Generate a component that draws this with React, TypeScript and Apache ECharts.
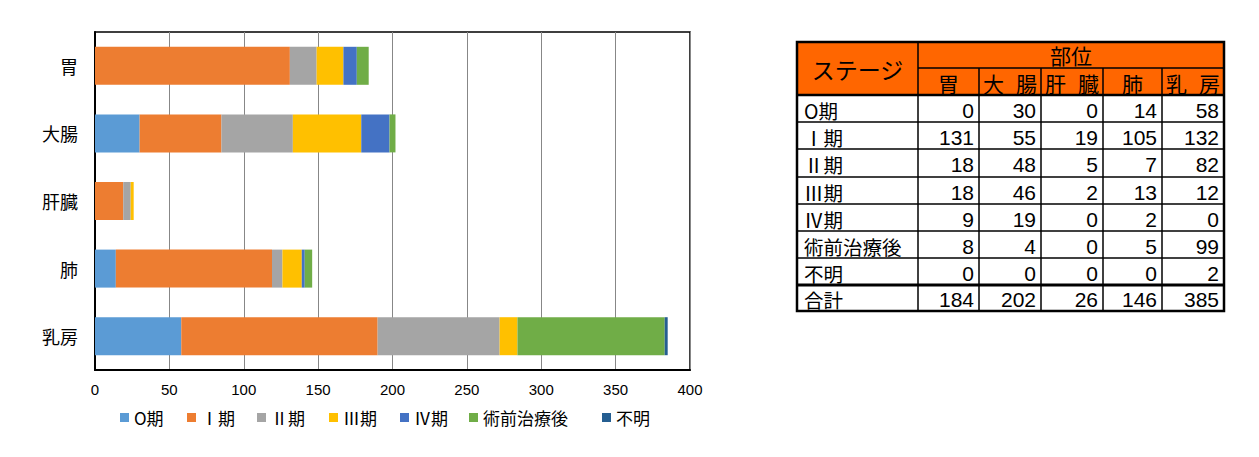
import React, { useEffect, useRef } from "react";
import * as echarts from "echarts";

const sites = ["胃", "大腸", "肝臓", "肺", "乳房"];
const stages = ["O期", "Ⅰ期", "Ⅱ期", "Ⅲ期", "Ⅳ期", "術前治療後", "不明"];
const stage0 = [0, 30, 0, 14, 58];
const stage1 = [131, 55, 19, 105, 132];
const stage2 = [18, 48, 5, 7, 82];
const stage3 = [18, 46, 2, 13, 12];
const stage4 = [9, 19, 0, 2, 0];
const preop = [8, 4, 0, 5, 99];
const unknown = [0, 0, 0, 0, 2];
const totals = [184, 202, 26, 146, 385];
const xTicks = [0, 50, 100, 150, 200, 250, 300, 350, 400];

const stageValues = [stage0, stage1, stage2, stage3, stage4, preop, unknown];
const colors = ["#5B9BD5", "#ED7D31", "#A5A5A5", "#FFC000", "#4472C4", "#70AD47", "#255E91"];
const legendLefts = [120, 187, 257, 329, 400, 469, 602];

const JP = "'Noto Sans CJK JP', 'Noto Sans', sans-serif";
const NUM = "'Liberation Sans', Arial, sans-serif";

function buildTable(): any[] {
  const colX = [797, 918, 979, 1041, 1103, 1162, 1224];
  const rowY = [42, 68, 95, 122, 149, 177, 204, 231, 258, 285, 311];
  const els: any[] = [];
  const L = colX[0];
  const R = colX[colX.length - 1];
  const T = rowY[0];
  const B = rowY[rowY.length - 1];
  els.push({ type: "rect", shape: { x: L, y: T, width: R - L, height: rowY[2] - T }, style: { fill: "#FF6600" } });
  const line = (x1: number, y1: number, x2: number, y2: number, w: number) =>
    els.push({ type: "line", shape: { x1, y1, x2, y2 }, style: { stroke: "#000", lineWidth: w } });
  line(colX[1], rowY[1], R, rowY[1], 1.5);
  for (let i = 3; i < rowY.length - 2; i++) line(L, rowY[i], R, rowY[i], 1.5);
  line(L, rowY[2], R, rowY[2], 2.5);
  line(L, rowY[9], R, rowY[9], 3);
  line(colX[1], T, colX[1], B, 1.5);
  for (let j = 2; j < colX.length - 1; j++) line(colX[j], rowY[1], colX[j], B, 1.5);
  els.push({ type: "rect", shape: { x: L, y: T, width: R - L, height: B - T }, style: { fill: "none", stroke: "#000", lineWidth: 2.5 } });

  const txt = (text: string, x: number, y: number, size: number, align: string, font = JP) =>
    els.push({
      type: "text",
      x,
      y,
      style: {
        text,
        fontSize: size,
        fontFamily: font,
        lineHeight: size + 1,
        fill: "#000",
        align,
        verticalAlign: "middle",
      },
    });

  txt("ステージ", (colX[0] + colX[1]) / 2, 69, 23, "center");
  txt("部位", (colX[1] + R) / 2, 55, 21, "center");
  sites.forEach((s, j) => {
    const x0 = colX[j + 1];
    const x1 = colX[j + 2];
    const chars = s.split("");
    if (chars.length === 1) {
      txt(s, (x0 + x1) / 2, 83, 21, "center");
    } else {
      txt(chars[0], x0 + 4, 83, 21, "left");
      txt(chars[1], x1 - 4, 83, 21, "right");
    }
  });
  const rows = stages.map((s, i) => ({ label: s, vals: stageValues[i] }));
  rows.push({ label: "合計", vals: totals });
  rows.forEach((r, i) => {
    const cy = (rowY[i + 2] + rowY[i + 3]) / 2 + 1.5;
    txt(r.label, 804, cy, 19.5, "left");
    r.vals.forEach((v, j) => {
      txt(String(v), colX[j + 2] - 5, cy, 21, "right", NUM);
    });
  });
  return els;
}

export default function App() {
  const ref = useRef<HTMLDivElement>(null);
  useEffect(() => {
    document.body.style.margin = "0";
    const chart = echarts.init(ref.current!, undefined, { renderer: "svg" });
    const option: any = {
      animation: false,
      backgroundColor: "#fff",
      grid: { left: 95, top: 32, right: 569, bottom: 87, show: true, borderColor: "#000", borderWidth: 1.5 },
      xAxis: {
        type: "value",
        min: xTicks[0],
        max: xTicks[xTicks.length - 1],
        interval: xTicks[1] - xTicks[0],
        axisLine: { show: true, lineStyle: { color: "#000", width: 2 } },
        axisTick: { show: false },
        axisLabel: { color: "#000", fontSize: 15, fontFamily: NUM, margin: 12 },
        splitLine: { show: true, lineStyle: { color: "#878787", width: 1 } },
      },
      yAxis: {
        type: "category",
        data: sites,
        inverse: true,
        axisLine: { show: true, lineStyle: { color: "#000", width: 2 } },
        axisTick: { show: false },
        axisLabel: { color: "#000", fontSize: 18, fontFamily: JP, margin: 17 },
      },
      legend: stages.map((s, i) => ({
        data: [s],
        left: legendLefts[i],
        top: 409,
        padding: 0,
        itemWidth: 9,
        itemHeight: 9,
        icon: "rect",
        selectedMode: false,
        textStyle: { color: "#000", fontSize: 17, fontFamily: JP },
      })),
      series: stages.map((s, i) => ({
        name: s,
        type: "bar",
        stack: "total",
        barWidth: 38,
        data: stageValues[i],
        itemStyle: { color: colors[i] },
      })),
      graphic: buildTable(),
    };
    chart.setOption(option);
    return () => chart.dispose();
  }, []);
  return (
    <div
      ref={ref}
      style={{ width: 1259, height: 457, position: "absolute", left: 0, top: 0 }}
    />
  );
}
